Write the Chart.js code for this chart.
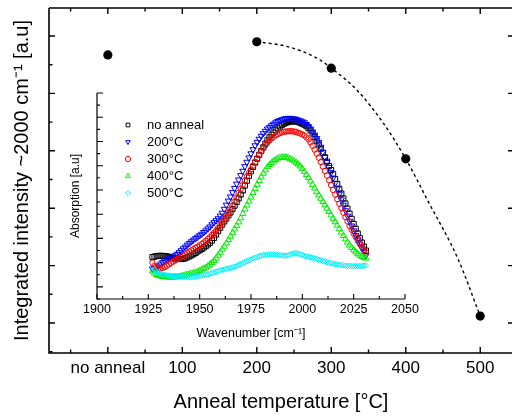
<!DOCTYPE html>
<html>
<head>
<meta charset="utf-8">
<script src="https://cdn.jsdelivr.net/npm/chart.js@4/dist/chart.umd.min.js"></script>
<style>
  html, body { margin: 0; padding: 0; background: #fff; overflow: hidden; }
  #wrap { position: relative; width: 512px; height: 416px; overflow: hidden; }
  #main { position: absolute; left: 0; top: 0; }
  #inset { position: absolute; left: 55px; top: 80px; }
</style>
</head>
<body>
<div id="wrap">
  <canvas id="main" width="520" height="416"></canvas>
  <canvas id="inset" width="380" height="265"></canvas>
</div>
<script>
// Integrated intensity vs anneal temperature (0 stands for "no anneal")
const annealTemps = [0, 200, 300, 400, 500];
const intensity = [5.67, 5.9, 5.44, 3.86, 1.12];
const fitTemps = [200, 240, 280, 300, 335, 370, 400, 430, 470, 500];
const fitIntensity = [5.9, 5.82, 5.62, 5.44, 5.05, 4.48, 3.86, 3.12, 2.12, 1.12];
const tempTickValues = [0, 100, 200, 300, 400, 500];
const tempTickLabels = ["no anneal", "100", "200", "300", "400", "500"];

// Absorption spectra around 2000 cm-1, one value per wavenumber
const wavenumbers = [
  1927, 1928, 1929, 1930, 1931, 1932, 1933, 1934, 1935, 1936, 1937, 1938, 1939, 1940, 1941,
  1942, 1943, 1944, 1945, 1946, 1947, 1948, 1949, 1950, 1951, 1952, 1953, 1954, 1955, 1956,
  1957, 1958, 1959, 1960, 1961, 1962, 1963, 1964, 1965, 1966, 1967, 1968, 1969, 1970, 1971,
  1972, 1973, 1974, 1975, 1976, 1977, 1978, 1979, 1980, 1981, 1982, 1983, 1984, 1985, 1986,
  1987, 1988, 1989, 1990, 1991, 1992, 1993, 1994, 1995, 1996, 1997, 1998, 1999, 2000, 2001,
  2002, 2003, 2004, 2005, 2006, 2007, 2008, 2009, 2010, 2011, 2012, 2013, 2014, 2015, 2016,
  2017, 2018, 2019, 2020, 2021, 2022, 2023, 2024, 2025, 2026, 2027, 2028, 2029, 2030, 2031,
];
const absNoAnneal = [
  1.23, 1.25, 1.27, 1.28, 1.28, 1.28, 1.27, 1.26, 1.24, 1.22, 1.2, 1.18, 1.16, 1.15, 1.15,
  1.16, 1.18, 1.22, 1.26, 1.3, 1.35, 1.4, 1.46, 1.51, 1.56, 1.62, 1.68, 1.75, 1.82, 1.91,
  2.02, 2.16, 2.3, 2.44, 2.57, 2.7, 2.82, 2.95, 3.07, 3.21, 3.35, 3.5, 3.65, 3.81, 3.98,
  4.18, 4.38, 4.58, 4.77, 4.95, 5.13, 5.29, 5.45, 5.61, 5.76, 5.91, 6.05, 6.17, 6.28, 6.37,
  6.46, 6.54, 6.62, 6.68, 6.73, 6.77, 6.8, 6.82, 6.83, 6.83, 6.82, 6.8, 6.77, 6.73, 6.69,
  6.63, 6.55, 6.45, 6.33, 6.19, 6.03, 5.87, 5.7, 5.53, 5.35, 5.17, 4.99, 4.82, 4.65, 4.45,
  4.25, 4.05, 3.85, 3.65, 3.44, 3.23, 3.02, 2.81, 2.6, 2.4, 2.2, 2.01, 1.83, 1.66, 1.5,
];
const abs200 = [
  0.75, 0.76, 0.8, 0.87, 0.95, 1.01, 1.07, 1.12, 1.16, 1.19, 1.23, 1.29, 1.35, 1.42, 1.5,
  1.58, 1.65, 1.73, 1.8, 1.87, 1.94, 2.0, 2.06, 2.12, 2.18, 2.25, 2.32, 2.4, 2.48, 2.57,
  2.66, 2.74, 2.82, 2.93, 3.05, 3.21, 3.38, 3.55, 3.72, 3.9, 4.07, 4.25, 4.42, 4.6, 4.78,
  4.97, 5.15, 5.33, 5.5, 5.67, 5.83, 5.97, 6.1, 6.22, 6.33, 6.43, 6.52, 6.59, 6.66, 6.72,
  6.78, 6.83, 6.87, 6.9, 6.93, 6.95, 6.96, 6.96, 6.95, 6.94, 6.92, 6.89, 6.86, 6.82, 6.78,
  6.71, 6.62, 6.52, 6.4, 6.27, 6.13, 5.96, 5.77, 5.56, 5.35, 5.14, 4.93, 4.72, 4.5, 4.28,
  4.05, 3.83, 3.6, 3.38, 3.15, 2.93, 2.72, 2.52, 2.32, 2.13, 1.95, 1.77, 1.6, 1.45, 1.3,
];
const abs300 = [
  1.0, 0.88, 0.8, 0.77, 0.76, 0.78, 0.82, 0.87, 0.93, 0.99, 1.04, 1.09, 1.14, 1.18, 1.23,
  1.28, 1.34, 1.4, 1.46, 1.51, 1.56, 1.61, 1.66, 1.71, 1.77, 1.83, 1.9, 1.97, 2.05, 2.14,
  2.23, 2.33, 2.43, 2.55, 2.67, 2.79, 2.92, 3.06, 3.2, 3.36, 3.53, 3.7, 3.88, 4.05, 4.22,
  4.39, 4.55, 4.7, 4.85, 5.0, 5.15, 5.3, 5.45, 5.59, 5.73, 5.84, 5.95, 6.04, 6.12, 6.19,
  6.25, 6.3, 6.34, 6.37, 6.4, 6.41, 6.42, 6.42, 6.42, 6.41, 6.39, 6.36, 6.33, 6.29, 6.25,
  6.17, 6.08, 5.96, 5.82, 5.66, 5.5, 5.33, 5.15, 4.97, 4.78, 4.59, 4.4, 4.2, 4.0, 3.81,
  3.62, 3.43, 3.25, 3.06, 2.88, 2.7, 2.52, 2.36, 2.2, 2.05, 1.9, 1.77, 1.65, 1.53, 1.42,
];
const abs400 = [
  0.65, 0.56, 0.5, 0.46, 0.44, 0.42, 0.41, 0.4, 0.4, 0.4, 0.4, 0.4, 0.41, 0.42, 0.44,
  0.46, 0.49, 0.51, 0.53, 0.55, 0.57, 0.6, 0.63, 0.67, 0.72, 0.76, 0.8, 0.86, 0.93, 1.0,
  1.08, 1.18, 1.3, 1.42, 1.55, 1.67, 1.8, 1.94, 2.08, 2.23, 2.38, 2.52, 2.67, 2.84, 3.02,
  3.2, 3.37, 3.53, 3.7, 3.88, 4.05, 4.22, 4.38, 4.53, 4.68, 4.82, 4.95, 5.04, 5.12, 5.19,
  5.25, 5.3, 5.33, 5.35, 5.35, 5.34, 5.32, 5.28, 5.24, 5.19, 5.13, 5.06, 4.98, 4.88, 4.76,
  4.63, 4.5, 4.36, 4.22, 4.07, 3.92, 3.78, 3.65, 3.51, 3.38, 3.24, 3.1, 2.96, 2.82, 2.68,
  2.54, 2.39, 2.25, 2.11, 1.97, 1.84, 1.72, 1.62, 1.52, 1.44, 1.36, 1.3, 1.25, 1.21, 1.18,
];
const abs500 = [
  0.85, 0.72, 0.62, 0.57, 0.53, 0.51, 0.49, 0.48, 0.47, 0.46, 0.45, 0.44, 0.43, 0.42, 0.42,
  0.41, 0.41, 0.41, 0.41, 0.41, 0.42, 0.43, 0.44, 0.45, 0.47, 0.48, 0.5, 0.52, 0.55, 0.57,
  0.6, 0.62, 0.65, 0.68, 0.7, 0.72, 0.74, 0.76, 0.78, 0.8, 0.83, 0.86, 0.9, 0.94, 0.98,
  1.02, 1.06, 1.1, 1.13, 1.17, 1.2, 1.23, 1.26, 1.29, 1.31, 1.32, 1.33, 1.34, 1.34, 1.34,
  1.33, 1.32, 1.31, 1.3, 1.29, 1.29, 1.3, 1.33, 1.36, 1.38, 1.39, 1.37, 1.34, 1.31, 1.28,
  1.26, 1.24, 1.22, 1.2, 1.17, 1.15, 1.12, 1.1, 1.07, 1.05, 1.02, 1.0, 0.98, 0.96, 0.94,
  0.93, 0.91, 0.9, 0.89, 0.88, 0.87, 0.87, 0.86, 0.86, 0.86, 0.86, 0.86, 0.86, 0.87, 0.88,
];
const spectrumLabels = ["no anneal", "200°C", "300°C", "400°C", "500°C"];
const spectrumColors = ["#000000", "#0000ff", "#ff0000", "#00ee00", "#00f0ff"];

const FONT = "'Liberation Sans', Arial, sans-serif";
Chart.defaults.color = "#000";
Chart.defaults.font.family = FONT;

// Origin-style frame with ticks pointing into the plot area
const innerTicks = {
  id: "innerTicks",
  afterDatasetsDraw(chart, args, opts) {
    const { ctx, chartArea: a } = chart;
    ctx.save();
    ctx.strokeStyle = "#000";
    ctx.lineWidth = opts.frameWidth;
    ctx.beginPath();
    for (const edge of opts.frame) {
      if (edge === "left") { ctx.moveTo(a.left, a.top); ctx.lineTo(a.left, a.bottom); }
      if (edge === "right") { ctx.moveTo(a.right, a.top); ctx.lineTo(a.right, a.bottom); }
      if (edge === "top") { ctx.moveTo(a.left, a.top); ctx.lineTo(a.right, a.top); }
      if (edge === "bottom") { ctx.moveTo(a.left - opts.frameWidth / 2, a.bottom); ctx.lineTo(a.right, a.bottom); }
    }
    ctx.stroke();
    ctx.lineWidth = opts.tickWidth;
    ctx.beginPath();
    for (const t of opts.sides) {
      const scale = chart.scales[t.axis];
      for (const tick of scale.ticks) {
        const v = tick.value;
        const r = v / t.major;
        const isMajor = Math.abs(r - Math.round(r)) < 1e-6;
        const len = isMajor ? t.long : t.short;
        if (!len) continue;
        const p = scale.getPixelForValue(v);
        if (t.side === "left") { ctx.moveTo(a.left, p); ctx.lineTo(a.left + len, p); }
        if (t.side === "right") { ctx.moveTo(a.right, p); ctx.lineTo(a.right - len, p); }
        if (t.side === "bottom") { ctx.moveTo(p, a.bottom); ctx.lineTo(p, a.bottom - len); }
        if (t.side === "top") { ctx.moveTo(p, a.top); ctx.lineTo(p, a.top + len); }
      }
    }
    ctx.stroke();
    ctx.restore();
  },
};

// legend inside the inset plot area, open markers like the data
const insetLegend = {
  id: "insetLegend",
  afterDatasetsDraw(chart, args, opts) {
    const { ctx, chartArea: a } = chart;
    ctx.save();
    ctx.font = "13px " + FONT;
    ctx.textBaseline = "middle";
    spectrumLabels.forEach((label, i) => {
      const ds = chart.data.datasets[i];
      const y = a.top + opts.top + i * opts.rowGap;
      ctx.strokeStyle = ds.borderColor;
      ctx.fillStyle = "rgba(0,0,0,0)";
      ctx.lineWidth = 1;
      Chart.helpers.drawPoint(ctx, {
        pointStyle: ds.pointStyle,
        rotation: ds.pointRotation || 0,
        radius: opts.markerRadius,
        borderWidth: 1,
      }, a.left + opts.markerX, y);
      ctx.fillStyle = "#000";
      ctx.fillText(label, a.left + opts.textX, y);
    });
    ctx.restore();
  },
};

new Chart(document.getElementById("main"), {
  type: "scatter",
  data: {
    datasets: [
      {
        type: "line",
        data: fitTemps.map((t, i) => ({ x: t, y: fitIntensity[i] })),
        borderColor: "#000",
        borderWidth: 1.4,
        borderDash: [3, 3],
        pointRadius: 0,
        cubicInterpolationMode: "monotone",
        fill: false,
      },
      {
        data: annealTemps.map((t, i) => ({ x: t, y: intensity[i] })),
        backgroundColor: "#000",
        borderColor: "#000",
        pointRadius: 4.6,
        borderWidth: 0,
      },
    ],
  },
  options: {
    responsive: false,
    animation: false,
    events: [],
    layout: { padding: { top: 8, right: 7, left: 0, bottom: 0 } },
    plugins: {
      legend: { display: false },
      tooltip: { enabled: false },
      innerTicks: {
        frame: ["left", "top", "bottom", "right"],
        frameWidth: 1.6,
        tickWidth: 1.4,
        sides: [
          { axis: "x", side: "bottom", major: 100, long: 6, short: 3.5 },
          { axis: "x", side: "top", major: 100, long: 6, short: 3.5 },
          { axis: "y", side: "left", major: 1, long: 6, short: 3.5 },
          { axis: "y", side: "right", major: 1, long: 5, short: 0 },
        ],
      },
    },
    scales: {
      x: {
        type: "linear",
        min: -79,
        max: 544,
        grid: { display: false, drawTicks: false },
        border: { display: false },
        ticks: {
          stepSize: 50,
          includeBounds: false,
          autoSkip: false,
          maxRotation: 0,
          padding: 5,
          font: { size: 17 },
          callback: (v) => {
            const i = tempTickValues.indexOf(v);
            return i >= 0 ? tempTickLabels[i] : "";
          },
        },
        title: {
          display: true,
          text: "Anneal temperature [°C]",
          font: { size: 20 },
          padding: { top: 0, bottom: 2 },
        },
        afterFit: (s) => { s.height = 63; },
      },
      y: {
        min: 0.477,
        max: 6.488,
        grid: { display: false, drawTicks: false },
        border: { display: false },
        ticks: { stepSize: 0.5, includeBounds: false, display: false },
        title: {
          display: true,
          text: "Integrated intensity ~2000 cm⁻¹ [a.u]",
          font: { size: 20 },
          padding: { top: 10, bottom: 0 },
        },
        afterFit: (s) => { s.width = 49; },
      },
    },
  },
  plugins: [innerTicks],
});

const spectra = [absNoAnneal, abs200, abs300, abs400, abs500];
const markerStyles = [
  { pointStyle: "rect", radius: 3.6, rotation: 0 },
  { pointStyle: "triangle", radius: 3.6, rotation: 180 },
  { pointStyle: "circle", radius: 2.7, rotation: 0 },
  { pointStyle: "triangle", radius: 3.6, rotation: 0 },
  { pointStyle: "rectRot", radius: 2.8, rotation: 0 },
];

new Chart(document.getElementById("inset"), {
  type: "scatter",
  data: {
    datasets: spectra.map((vals, i) => ({
      data: wavenumbers.map((w, j) => ({ x: w, y: vals[j] })),
      borderColor: spectrumColors[i],
      backgroundColor: "rgba(0,0,0,0)",
      pointStyle: markerStyles[i].pointStyle,
      pointRotation: markerStyles[i].rotation,
      pointRadius: markerStyles[i].radius,
      pointBorderWidth: 1,
      order: spectra.length - i,
    })),
  },
  options: {
    responsive: false,
    animation: false,
    events: [],
    layout: { padding: { top: 13, right: 30, left: 0, bottom: 0 } },
    plugins: {
      legend: { display: false },
      tooltip: { enabled: false },
      innerTicks: {
        frame: ["left", "bottom"],
        frameWidth: 1.2,
        tickWidth: 1.1,
        sides: [
          { axis: "x", side: "bottom", major: 25, long: 5, short: 3 },
          { axis: "y", side: "left", major: 1, long: 6, short: 3 },
        ],
      },
      insetLegend: { markerX: 31, textX: 50, top: 32, rowGap: 17, markerRadius: 2.6 },
    },
    scales: {
      x: {
        type: "linear",
        min: 1900,
        max: 2050,
        grid: { display: false, drawTicks: false },
        border: { display: false },
        ticks: {
          stepSize: 12.5,
          autoSkip: false,
          maxRotation: 0,
          padding: 3,
          font: { size: 12.5 },
          callback: (v) => (v % 25 === 0 ? String(v) : ""),
        },
        title: {
          display: true,
          text: "Wavenumber [cm⁻¹]",
          font: { size: 12.5 },
          padding: { top: 0, bottom: 4 },
        },
        afterFit: (s) => { s.height = 46; },
      },
      y: {
        min: -0.5,
        max: 8,
        grid: { display: false, drawTicks: false },
        border: { display: false },
        ticks: { stepSize: 0.5, display: false },
        title: {
          display: true,
          text: "Absorption [a.u]",
          font: { size: 12 },
          padding: { top: 13, bottom: 0 },
        },
        afterFit: (s) => { s.width = 42; },
      },
    },
  },
  plugins: [innerTicks, insetLegend],
});
</script>
</body>
</html>
